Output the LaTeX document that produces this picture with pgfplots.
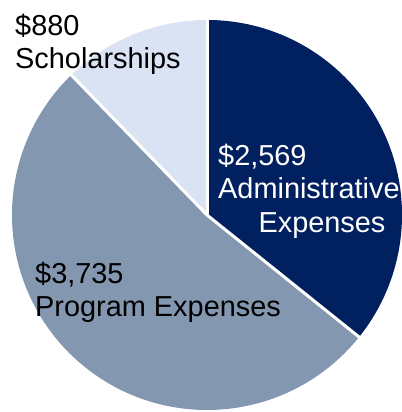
\documentclass[border=0pt]{standalone}
\usepackage{pgfplots}
\pgfplotsset{compat=1.18}
\usepackage{fontspec}
\setmainfont{Liberation Sans}
\definecolor{admin}{HTML}{002060}
\definecolor{prog}{HTML}{8497B0}
\definecolor{schol}{HTML}{DAE3F3}
\begin{document}
\begin{tikzpicture}
\pgfmathsetmacro{\vA}{2569}
\pgfmathsetmacro{\vB}{3735}
\pgfmathsetmacro{\vC}{880}
\pgfmathsetmacro{\total}{\vA+\vB+\vC}
\pgfmathsetmacro{\aA}{90-360*(\vA/\total)}
\pgfmathsetmacro{\aB}{\aA-360*(\vB/\total)}
\pgfmathsetmacro{\aC}{\aB-360*(\vC/\total)}
\begin{axis}[x=1bp,y=1bp,xmin=0,xmax=402,ymin=0,ymax=412,hide axis,scale only axis,clip=false]
\coordinate (LL) at (axis cs:0,0);
\coordinate (UR) at (axis cs:402,412);
\fill[admin] (axis cs:207,197) -- ++(90:195bp) arc[start angle=90, end angle=\aA, radius=195bp] -- cycle;
\fill[prog] (axis cs:207,197) -- ++(\aA:195bp) arc[start angle=\aA, end angle=\aB, radius=195bp] -- cycle;
\fill[schol] (axis cs:207,197) -- ++(\aB:195bp) arc[start angle=\aB, end angle=\aC, radius=195bp] -- cycle;
\draw[white, line width=3bp] (axis cs:207,197) -- ++(90:196bp);
\draw[white, line width=3bp] (axis cs:207,197) -- ++(\aA:196bp);
\draw[white, line width=3bp] (axis cs:207,197) -- ++(\aB:196bp);
\node[anchor=base west, inner sep=0pt, font=\fontsize{29}{33}\selectfont] at (axis cs:15,377) {\$880};
\node[anchor=base west, inner sep=0pt, font=\fontsize{29}{33}\selectfont] at (axis cs:15,344) {Scholarships};
\node[anchor=base west, inner sep=0pt, font=\fontsize{29}{33}\selectfont, text=white] at (axis cs:218,247) {\$2,569};
\node[anchor=base west, inner sep=0pt, font=\fontsize{29}{33}\selectfont, text=white] at (axis cs:218,214) {Administrative};
\node[anchor=base, inner sep=0pt, font=\fontsize{29}{33}\selectfont, text=white] at (axis cs:322,180) {Expenses};
\node[anchor=base west, inner sep=0pt, font=\fontsize{29}{33}\selectfont] at (axis cs:35,129) {\$3,735};
\node[anchor=base west, inner sep=0pt, font=\fontsize{29}{33}\selectfont] at (axis cs:35,96) {Program Expenses};
\end{axis}
\pgfresetboundingbox
\useasboundingbox (LL) rectangle (UR);
\end{tikzpicture}
\end{document}
